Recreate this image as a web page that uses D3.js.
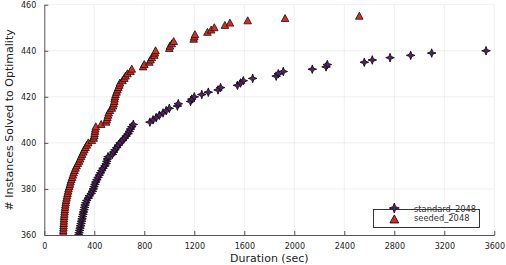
<!DOCTYPE html>
<html>
<head>
<meta charset="utf-8">
<title>Instances solved</title>
<script src="https://d3js.org/d3.v7.min.js"></script>
<style>
  * { margin: 0; padding: 0; }
  body { background: #fff; }
  text { font-family: "DejaVu Sans", sans-serif; }
</style>
</head>
<body>
<div id="chart"></div>
<script>
// y values are the count of instances solved, x the duration
const standardCounts = d3.range(360, 441);
const standardDur = [
  275, 278, 282, 286, 290, 294, 298, 302, 306, 310,
  314, 318, 322, 326, 332, 340, 352, 360, 375, 385,
  392, 398, 405, 412, 420, 430, 440, 450, 460, 470,
  485, 495, 500, 505, 510, 545, 555, 565, 580, 592,
  606, 625, 640, 655, 670, 680, 690, 700, 712, 845,
  870, 895, 920, 950, 975, 1000, 1065, 1072, 1170, 1180,
  1200, 1260, 1312, 1390, 1410, 1545, 1570, 1592, 1667, 1855,
  1872, 1912, 2144, 2254, 2264, 2560, 2624, 2766, 2931, 3099,
  3534
];
const seededCounts = d3.range(360, 456);
const seededDur = [
  150, 151, 152, 153, 154, 155, 156, 157, 158, 160,
  162, 164, 166, 168, 171, 174, 178, 182, 186, 190,
  194, 200, 205, 210, 216, 222, 228, 235, 242, 250,
  258, 268, 278, 286, 294, 302, 312, 320, 330, 340,
  352, 380, 395, 400, 402, 405, 408, 412, 455, 495,
  500, 505, 510, 515, 525, 540, 550, 555, 560, 562,
  565, 570, 578, 585, 592, 600, 605, 625, 640, 650,
  665, 690, 700, 790, 800, 840, 850, 860, 880, 885,
  890, 1000, 1005, 1020, 1035, 1195, 1200, 1205, 1305, 1335,
  1360, 1445, 1485, 1627, 1926, 2520
];
const xTicks = [0, 400, 800, 1200, 1600, 2000, 2400, 2800, 3200, 3600];
const yTicks = [360, 380, 400, 420, 440, 460];
const seriesNames = ["standard_2048", "seeded_2048"];

const width = 506, height = 265;
const margin = { top: 4.7, right: 11.7, bottom: 30, left: 44.3 };

const purple = "#5b1b72";
const red = "#dc2a20";

const svg = d3.select("#chart").append("svg")
  .attr("width", width).attr("height", height);

const x = d3.scaleLinear().domain([0, 3600]).range([margin.left, width - margin.right]);
const y = d3.scaleLinear().domain([360, 460]).range([height - margin.bottom, margin.top]);

// grid
svg.append("g").selectAll("line").data(xTicks.slice(1)).join("line")
  .attr("x1", d => x(d)).attr("x2", d => x(d))
  .attr("y1", y(360)).attr("y2", y(460))
  .attr("stroke", "#e6e6e6").attr("stroke-width", 0.6);
svg.append("g").selectAll("line").data(yTicks.slice(1)).join("line")
  .attr("x1", x(0)).attr("x2", x(3600))
  .attr("y1", d => y(d)).attr("y2", d => y(d))
  .attr("stroke", "#e6e6e6").attr("stroke-width", 0.6);

// axes, ticks inside
const xAxis = svg.append("g")
  .attr("transform", `translate(0,${y(360)})`)
  .call(d3.axisBottom(x).tickValues(xTicks).tickFormat(d3.format("d"))
    .tickSizeInner(-4).tickSizeOuter(0).tickPadding(8));
const yAxis = svg.append("g")
  .attr("transform", `translate(${x(0)},0)`)
  .call(d3.axisLeft(y).tickValues(yTicks).tickFormat(d3.format("d"))
    .tickSizeInner(-4).tickSizeOuter(0).tickPadding(8));
[xAxis, yAxis].forEach(a => {
  a.select(".domain").attr("stroke", "#555").attr("stroke-width", 1);
  a.selectAll(".tick line").attr("stroke", "#555");
  a.selectAll("text").attr("font-size", 8).attr("fill", "#222")
    .style("font-family", "'DejaVu Sans', sans-serif");
});

// markers
function star4(r) {
  const k = 0.27 * r;
  return `M0,${-r}L${k},${-k}L${r},0L${k},${k}L0,${r}L${-k},${k}L${-r},0L${-k},${-k}Z`;
}
const triPath = "M0,-4L3.8,3L-3.8,3Z";

svg.append("clipPath").attr("id", "plotclip").append("rect")
  .attr("x", x(0)).attr("y", y(460) - 6)
  .attr("width", x(3600) - x(0) + 6).attr("height", y(360) - y(460) + 6);

const plot = svg.append("g").attr("clip-path", "url(#plotclip)");

plot.append("g").selectAll("path").data(standardDur).join("path")
  .attr("transform", (d, i) => `translate(${x(d)},${y(standardCounts[i])})`)
  .attr("d", star4(4.3))
  .attr("fill", purple).attr("stroke", "#111").attr("stroke-width", 0.9);

plot.append("g").selectAll("path").data(seededDur).join("path")
  .attr("transform", (d, i) => `translate(${x(d)},${y(seededCounts[i])})`)
  .attr("d", triPath)
  .attr("fill", red).attr("stroke", "#111").attr("stroke-width", 0.8);

// axis titles
svg.append("text")
  .attr("x", (x(0) + x(3600)) / 2).attr("y", 262)
  .attr("text-anchor", "middle").attr("font-size", 11).attr("fill", "#222")
  .text("Duration (sec)");
svg.append("text")
  .attr("transform", `translate(13,${(y(360) + y(460)) / 2}) rotate(-90)`)
  .attr("text-anchor", "middle").attr("font-size", 11).attr("fill", "#222")
  .text("# Instances Solved to Optimality");

// legend
const lg = svg.append("g");
lg.append("rect")
  .attr("x", 373.5).attr("y", 209.5).attr("width", 106).attr("height", 18)
  .attr("fill", "#fff").attr("stroke", "#222").attr("stroke-width", 0.9);
lg.append("path").attr("transform", "translate(394.3,208)")
  .attr("d", star4(5))
  .attr("fill", purple).attr("stroke", "#111").attr("stroke-width", 0.9);
lg.append("path").attr("transform", "translate(394.3,219.5) scale(1.15)")
  .attr("d", triPath)
  .attr("fill", red).attr("stroke", "#111").attr("stroke-width", 0.8);
lg.selectAll("text").data(seriesNames).join("text")
  .attr("x", 414).attr("y", (d, i) => 212.3 + i * 8.5)
  .attr("font-size", 8.3).attr("fill", "#333")
  .text(d => d);
</script>
</body>
</html>
